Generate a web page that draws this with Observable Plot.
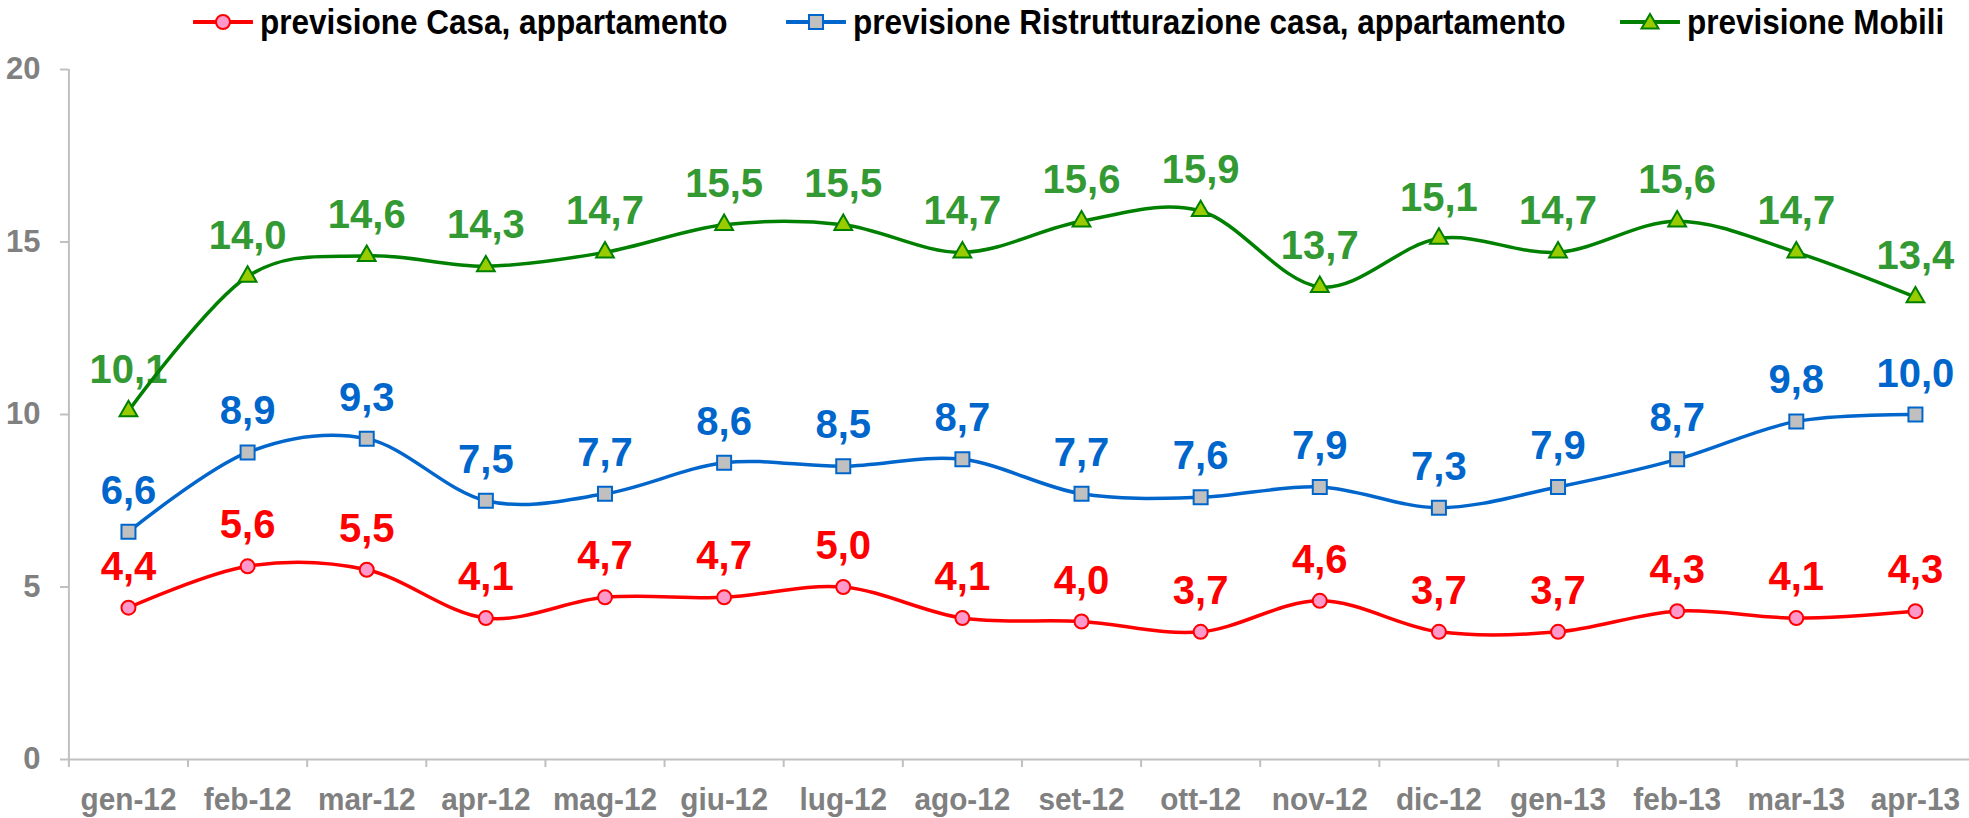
<!DOCTYPE html>
<html><head><meta charset="utf-8">
<script src="https://cdn.jsdelivr.net/npm/d3@7"></script>
<script src="https://cdn.jsdelivr.net/npm/@observablehq/plot@0.6"></script>
<style>
body{margin:0;background:#fff;font-family:"Liberation Sans",Arial,sans-serif;}
#legend{position:relative;height:44px;width:1969px;overflow:hidden;}
.item{position:absolute;top:0;height:44px;display:flex;align-items:center;font-weight:bold;font-size:35px;color:#000;white-space:nowrap;}
.item svg{margin-right:7px;flex:none;}
.item span{display:inline-block;transform:scaleX(0.9);transform-origin:left center;}
</style></head><body>
<div id="legend"></div><div id="chart"></div>
<script>
const months = ["gen-12","feb-12","mar-12","apr-12","mag-12","giu-12","lug-12","ago-12","set-12","ott-12","nov-12","dic-12","gen-13","feb-13","mar-13","apr-13"];
const casa = [4.4,5.6,5.5,4.1,4.7,4.7,5.0,4.1,4.0,3.7,4.6,3.7,3.7,4.3,4.1,4.3];
const ristrutturazione = [6.6,8.9,9.3,7.5,7.7,8.6,8.5,8.7,7.7,7.6,7.9,7.3,7.9,8.7,9.8,10.0];
const mobili = [10.1,14.0,14.6,14.3,14.7,15.5,15.5,14.7,15.6,15.9,13.7,15.1,14.7,15.6,14.7,13.4];
const yTicks = [0,5,10,15,20];
const seriesNames = ["previsione Casa, appartamento","previsione Ristrutturazione casa, appartamento","previsione Mobili"];

const styles = [
  {line:"#ff0000", label:"#ff0000", symbol:"circle", fill:"#ff99cc", mstroke:"#ff0000", r:7, left:193},
  {line:"#0066cc", label:"#0066cc", symbol:"square", fill:"#c0c0c0", mstroke:"#0066cc", r:7.9, left:786},
  {line:"#008000", label:"#339933", symbol:"triangle", fill:"#99cc00", mstroke:"#008000", r:6.6, left:1620}
];
const seriesValues = [casa, ristrutturazione, mobili];

// Legend
const legend = document.getElementById("legend");
seriesNames.forEach((name, k) => {
  const s = styles[k];
  const div = document.createElement("div");
  div.className = "item";
  div.style.left = s.left + "px";
  let marker;
  if (s.symbol === "circle") marker = `<circle cx="30" cy="10" r="7" fill="${s.fill}" stroke="${s.mstroke}" stroke-width="2"/>`;
  else if (s.symbol === "square") marker = `<rect x="23" y="3" width="14" height="14" fill="${s.fill}" stroke="${s.mstroke}" stroke-width="2"/>`;
  else marker = `<polygon points="30,2 38.5,16.5 21.5,16.5" fill="${s.fill}" stroke="${s.mstroke}" stroke-width="2"/>`;
  div.innerHTML = `<svg width="60" height="20"><line x1="1" x2="59" y1="10" y2="10" stroke="${s.line}" stroke-width="4" stroke-linecap="round"/>${marker}</svg><span>${name}</span>`;
  legend.appendChild(div);
});

const fmt = v => v.toFixed(1).replace(".", ",");
const seriesData = seriesValues.map(vals => vals.map((v, i) => ({i, v})));
const boundaries = d3.range(15).map(i => i - 0.5);

const marks = [
  Plot.ruleX([-0.5], {y1: 0, y2: 20, stroke: "#c0c0c0", strokeWidth: 2}),
  Plot.ruleY([0], {stroke: "#c0c0c0", strokeWidth: 2}),
  Plot.axisY({ticks: yTicks, tickSize: 8, tickPadding: 20, stroke: "#c0c0c0", strokeWidth: 2, fill: "#808080", fontSize: 31, fontWeight: "bold", tickFormat: d => String(d), label: null}),
  Plot.axisX({ticks: boundaries, tickSize: 8, tickFormat: () => "", stroke: "#c0c0c0", strokeWidth: 2, label: null}),
  Plot.axisX({ticks: d3.range(16), tickSize: 0, tickPadding: 28, tickFormat: i => months[i], fill: "#808080", fontSize: 32, fontWeight: "bold", label: null})
];
seriesData.forEach((data, k) => {
  const s = styles[k];
  marks.push(Plot.text(data, {x: "i", y: "v", text: d => fmt(d.v), dy: -28, lineAnchor: "bottom", fill: s.label, fontSize: 40, fontWeight: "bold"}));
});
seriesData.forEach((data, k) => {
  const s = styles[k];
  marks.push(Plot.line(data, {x: "i", y: "v", stroke: s.line, strokeWidth: 3.5, curve: "cardinal"}));
});
seriesData.forEach((data, k) => {
  const s = styles[k];
  marks.push(Plot.dot(data, {x: "i", y: "v", symbol: s.symbol, r: s.r, fill: s.fill, stroke: s.mstroke, strokeWidth: 2}));
});

const chart = Plot.plot({
  width: 1969, height: 774,
  marginLeft: 68, marginRight: 0, marginTop: 25, marginBottom: 59,
  x: {type: "linear", domain: [-0.5, 15.5], range: [68.4, 1974.5]},
  y: {domain: [0, 20], range: [715, 25]},
  style: {fontFamily: '"Liberation Sans", Arial, sans-serif', background: "white", overflow: "visible"},
  marks
});
document.getElementById("chart").appendChild(chart);

// slightly condense the month labels, as in the reference
chart.querySelectorAll('g[aria-label="x-axis tick label"] text').forEach(t => {
  if (!t.textContent) return;
  const w = t.getComputedTextLength();
  t.setAttribute("textLength", (w * 0.93).toFixed(1));
  t.setAttribute("lengthAdjust", "spacingAndGlyphs");
});
</script>
</body></html>
